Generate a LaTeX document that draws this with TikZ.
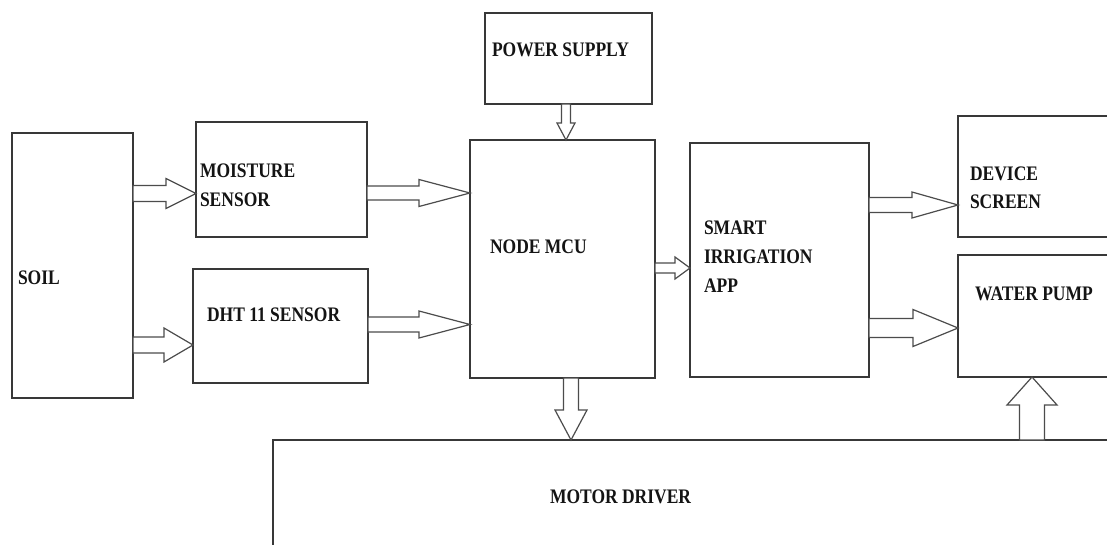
\documentclass[tikz,border=0pt]{standalone}
\usepackage{graphicx}
\usepackage{fontspec}
\setmainfont{Liberation Serif}
\tikzset{
  box/.style={draw=black!78, line width=1.3pt, fill=none, inner sep=0pt, outer sep=0pt},
  lbl/.style={inner sep=0pt, outer sep=0pt, font=\fontsize{17.5}{20}\selectfont\bfseries, text=black!92},
  barrow/.style={draw=black!70, line width=1.2pt, fill=white, line join=miter},
}
\newcommand{\tx}[1]{\scalebox{1}[1.18]{#1}}
% horizontal block arrow: from, to, y, shaft half, head half, head length
\newcommand{\harrowblk}[6]{%
  \draw[barrow] (#2 |- 0,#3) -- ++(-#6,-#5) coordinate (hu) -- ++(0,#5-#4)
    -- (#1 |- 0,#3-#4) -- (#1 |- 0,#3+#4) -- (hu |- 0,#3+#4) -- ++(0,#5-#4) -- cycle;}
% vertical block arrow: from, to, x, shaft half, head half, signed head length
\newcommand{\varrowblk}[6]{%
  \draw[barrow] (#3,0 |- #2) -- ++(-#5,#6) coordinate (hl) -- ++(#5-#4,0)
    -- (#3-#4,0 |- #1) -- (#3+#4,0 |- #1) -- (#3+#4,0 |- hl) -- ++(#5-#4,0) -- cycle;}
\begin{document}
\begin{tikzpicture}[x=1pt,y=-1pt]
\clip (0,0) rectangle (1107,545);
\fill[white] (0,0) rectangle (1107,545);
% boxes
\node[box, minimum width=121pt, minimum height=265pt] (soil) at (72.5,265.5) {};
\node[box, minimum width=171pt, minimum height=115pt] (moist) at (281.5,179.5) {};
\node[box, minimum width=175pt, minimum height=114pt] (dht) at (280.5,326) {};
\node[box, minimum width=167pt, minimum height=91pt] (power) at (568.5,58.5) {};
\node[box, minimum width=185pt, minimum height=238pt] (mcu) at (562.5,259) {};
\node[box, minimum width=179pt, minimum height=234pt] (app) at (779.5,260) {};
\node[box, minimum width=190pt, minimum height=121pt] (dev) at (1053,176.5) {};
\node[box, minimum width=190pt, minimum height=122pt] (pump) at (1053,316) {};
\node[box, minimum width=880pt, minimum height=160pt] (motor) at (713,520) {};
% labels
\node[lbl, anchor=base west] (tsoil) at (18,284) {\tx{SOIL}};
\node[lbl, anchor=base west] (tmoist1) at (200,178) {\tx{MOISTURE}};
\node[lbl, anchor=base west] (tmoist2) at (200,207) {\tx{SENSOR}};
\node[lbl, anchor=base west] (tdht) at (207,321.5) {\tx{DHT 11 SENSOR}};
\node[lbl, anchor=base west] (tpower) at (492,57) {\tx{POWER SUPPLY}};
\node[lbl, anchor=base west] (tmcu) at (490,253) {\tx{NODE MCU}};
\node[lbl, anchor=base west] (tapp1) at (704,235) {\tx{SMART}};
\node[lbl, anchor=base west] (tapp2) at (704,263) {\tx{IRRIGATION}};
\node[lbl, anchor=base west] (tapp3) at (704,292) {\tx{APP}};
\node[lbl, anchor=base west] (tdev1) at (970,181) {\tx{DEVICE}};
\node[lbl, anchor=base west] (tdev2) at (970,209) {\tx{SCREEN}};
\node[lbl, anchor=base west] (tpump) at (975,300) {\tx{WATER PUMP}};
\node[lbl, anchor=base west] (tmotor) at (550,503) {\tx{MOTOR DRIVER}};
% block arrows
\harrowblk{soil.east}{moist.west}{193.5}{8}{15}{30}
\harrowblk{soil.east}{dht.west}{345}{8}{17}{29}
\harrowblk{moist.east}{mcu.west}{193}{7}{13.5}{51}
\harrowblk{dht.east}{mcu.west}{324.5}{7.5}{13.5}{51}
\harrowblk{mcu.east}{app.west}{268}{5}{11}{15}
\harrowblk{app.east}{dev.west}{205}{7.5}{13}{46}
\harrowblk{app.east}{pump.west}{328}{9.5}{18.5}{45}
\varrowblk{power.south}{mcu.north}{566}{4.5}{9}{-17}
\varrowblk{mcu.south}{motor.north}{571}{7.5}{16}{-30}
\varrowblk{motor.north}{pump.south}{1032}{12.5}{25}{28}
\end{tikzpicture}
\end{document}
